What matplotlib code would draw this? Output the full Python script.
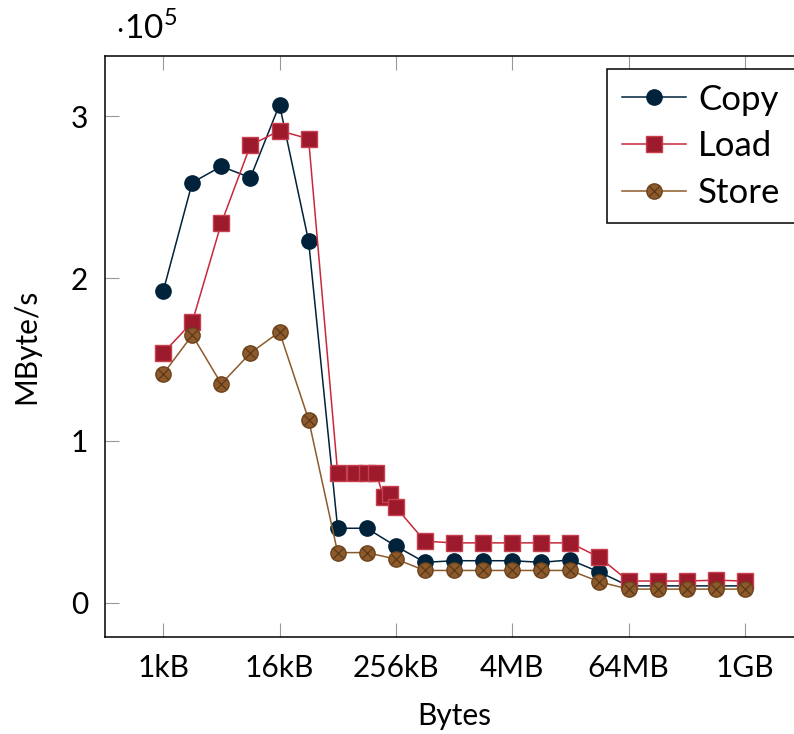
import matplotlib.pyplot as plt
import numpy as np
from matplotlib.legend_handler import HandlerTuple

plt.rcParams['font.family'] = ['Lato', 'DejaVu Sans']
plt.rcParams['mathtext.fontset'] = 'custom'
plt.rcParams['mathtext.rm'] = 'Lato'

# sizes as powers of two (bytes)
copy_exp = list(range(10, 31))
copy_val = [1.92, 2.59, 2.69, 2.62, 3.07, 2.23, 0.46, 0.46, 0.35, 0.25, 0.26,
            0.26, 0.26, 0.25, 0.265, 0.19, 0.105, 0.105, 0.105, 0.105, 0.105]

load_kb = [96, 160, 192, 224]
load_exp = [10, 11, 12, 13, 14, 15, 16] + list(np.log2(load_kb) + 10) + list(range(17, 31))
load_val = [1.54, 1.73, 2.34, 2.82, 2.91, 2.86, 0.80,
            0.80, 0.80, 0.65, 0.67,
            0.80, 0.59, 0.38, 0.37, 0.37, 0.37, 0.37, 0.37, 0.28,
            0.135, 0.135, 0.135, 0.14, 0.135]

store_exp = list(range(10, 31))
store_val = [1.41, 1.65, 1.35, 1.54, 1.67, 1.13, 0.31, 0.31, 0.27, 0.20, 0.20,
             0.20, 0.20, 0.20, 0.20, 0.13, 0.085, 0.085, 0.085, 0.085, 0.085]

tick_exp = [10, 14, 18, 22, 26, 30]
tick_labels = ['1kB', '16kB', '256kB', '4MB', '64MB', '1GB']

# sort load by size
order = np.argsort(load_exp)
load_x = 2.0 ** np.array(load_exp)[order]
load_y = np.array(load_val)[order] * 1e5

fig = plt.figure(figsize=(7.94, 7.34), dpi=100)
ax = fig.add_axes([105 / 794, 1 - 637 / 734, (803 - 105) / 794, (637 - 56) / 734])

c_copy = '#00223a'
c_load = '#9c1a2b'
c_store = '#8d5a2b'

l1, = ax.plot(2.0 ** np.array(copy_exp), np.array(copy_val) * 1e5, '-o', color=c_copy,
              lw=1.1, ms=11, mfc=c_copy, mec=c_copy, zorder=3)
l2, = ax.plot(load_x, load_y, '-s', color='#c8283c', lw=1.1, ms=11,
              mfc=c_load, mec='#c8404f', mew=1.0, zorder=3)
l3, = ax.plot(2.0 ** np.array(store_exp), np.array(store_val) * 1e5, '-o', color=c_store,
              lw=1.1, ms=11, mfc=c_store, mec='#6b421c', mew=1.0, zorder=4)
l3x, = ax.plot(2.0 ** np.array(store_exp), np.array(store_val) * 1e5, 'x', color='#5a3818',
               ms=7.5, mew=0.9, zorder=5)

ax.set_xscale('log', base=2)
ax.set_xlim(2.0 ** 8, 2.0 ** 32)
ax.set_ylim(-0.21e5, 3.37e5)
ax.set_xticks([2.0 ** e for e in tick_exp])
ax.set_xticklabels(tick_labels)
ax.minorticks_off()
ax.set_yticks([0, 1e5, 2e5, 3e5])
ax.set_yticklabels(['0', '1', '2', '3'])
ax.tick_params(direction='in', length=10, width=0.8, color='#999999', labelsize=21.5,
               top=True, pad=12)
for s in ax.spines.values():
    s.set_linewidth(1.1)
ax.spines['right'].set_visible(False)

ax.set_xlabel('Bytes', fontsize=21.5, labelpad=15)
ax.set_ylabel('MByte/s', fontsize=21.5, labelpad=22)
fig.text(115 / 794, 1 - 28 / 734, r'$\cdot 10^5$', fontsize=24, va='center', ha='left')

leg = ax.legend([l1, l2, (l3, l3x)], ['Copy', 'Load', 'Store'],
                handler_map={tuple: HandlerTuple(ndivide=1, pad=0)},
                loc='upper left', bbox_to_anchor=((607 - 105) / 698, 1 - 13 / 581),
                fontsize=25, frameon=True, fancybox=False, edgecolor='black',
                framealpha=1, handlelength=1.85, borderpad=0.42, labelspacing=0.42,
                handletextpad=0.35, borderaxespad=0)
leg.get_frame().set_linewidth(1.1)

fig.savefig('out.png', dpi=100)
